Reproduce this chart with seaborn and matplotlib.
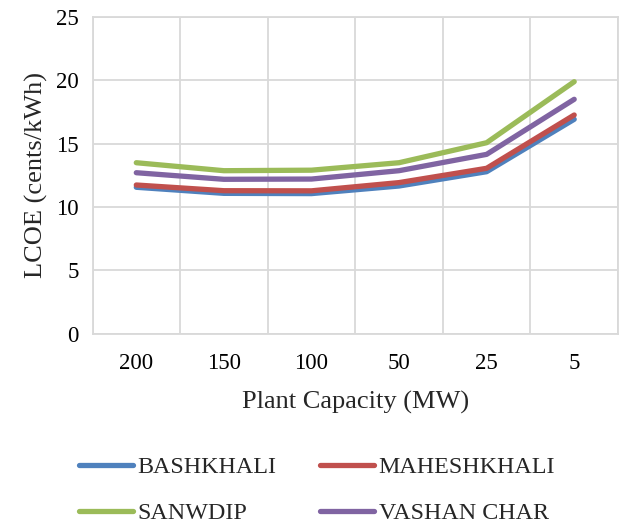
import matplotlib
matplotlib.use("Agg")
import matplotlib.pyplot as plt
import seaborn as sns
import pandas as pd
import numpy as np

capacities = ["200", "150", "100", "50", "25", "5"]
bashkhali = [11.55, 11.07, 11.05, 11.65, 12.78, 16.92]
maheshkhali = [11.73, 11.28, 11.27, 11.92, 13.05, 17.26]
sanwdip = [13.49, 12.86, 12.90, 13.49, 15.07, 19.89]
vashan_char = [12.70, 12.18, 12.20, 12.86, 14.15, 18.50]

series_names = ["BASHKHALI", "MAHESHKHALI", "SANWDIP", "VASHAN CHAR"]
series_vals = [bashkhali, maheshkhali, sanwdip, vashan_char]
colors = ["#4F81BD", "#C0504D", "#9BBB59", "#8064A2"]

rows = []
for name, vals in zip(series_names, series_vals):
    for i, (c, v) in enumerate(zip(capacities, vals)):
        rows.append({"pos": i, "cap": c, "LCOE": v, "site": name})
df = pd.DataFrame(rows)

sns.set_theme(style="white")
plt.rcParams["font.family"] = ["Liberation Serif", "DejaVu Serif"]

fig = plt.figure(figsize=(6.24, 5.25), dpi=100)
ax = fig.add_axes([92.5 / 624, 1 - 333.5 / 525, (618 - 92.5) / 624, (333.5 - 17) / 525])

sns.lineplot(data=df, x="pos", y="LCOE", hue="site", hue_order=series_names,
             palette=colors, linewidth=3.8, sort=False, ax=ax, legend=False,
             solid_capstyle="round")

ax.set_xlim(-0.5, 5.5)
ax.set_ylim(0, 25)
ax.set_xticks(range(len(capacities)))
ax.set_xticklabels(capacities)
ax.set_xticks(np.arange(-0.5, 6, 1), minor=True)
ax.set_yticks([0, 5, 10, 15, 20, 25])
ax.grid(False)
ax.grid(True, axis="y", which="major", color="#D9D9D9", linewidth=1.3)
ax.grid(True, axis="x", which="minor", color="#D9D9D9", linewidth=1.3)
ax.set_axisbelow(True)
for s in ax.spines.values():
    s.set_color("#D9D9D9")
    s.set_linewidth(1.3)
ax.tick_params(axis="both", which="both", length=0, labelsize=16.5, colors="black")
ax.tick_params(axis="x", pad=14)
ax.tick_params(axis="y", pad=10)
ax.set_xlabel("Plant Capacity (MW)", fontsize=19, labelpad=12)
ax.set_ylabel("LCOE (cents/kWh)", fontsize=19, labelpad=6)

# order handles so that rows read BASHKHALI, MAHESHKHALI / SANWDIP, VASHAN CHAR
order = [0, 2, 1, 3]
handles = [plt.Line2D([0], [0], color=colors[i], linewidth=3.8, solid_capstyle="round") for i in order]
labels = [series_names[i] for i in order]
fig.legend(handles, labels, ncol=2, loc="center", bbox_to_anchor=(317 / 624, 1 - 490.5 / 525),
           frameon=False, fontsize=17.3, handlelength=2.25, handletextpad=0.2,
           columnspacing=1.8, labelspacing=1.0, borderpad=0.2)

fig.savefig("out.png", dpi=100)
